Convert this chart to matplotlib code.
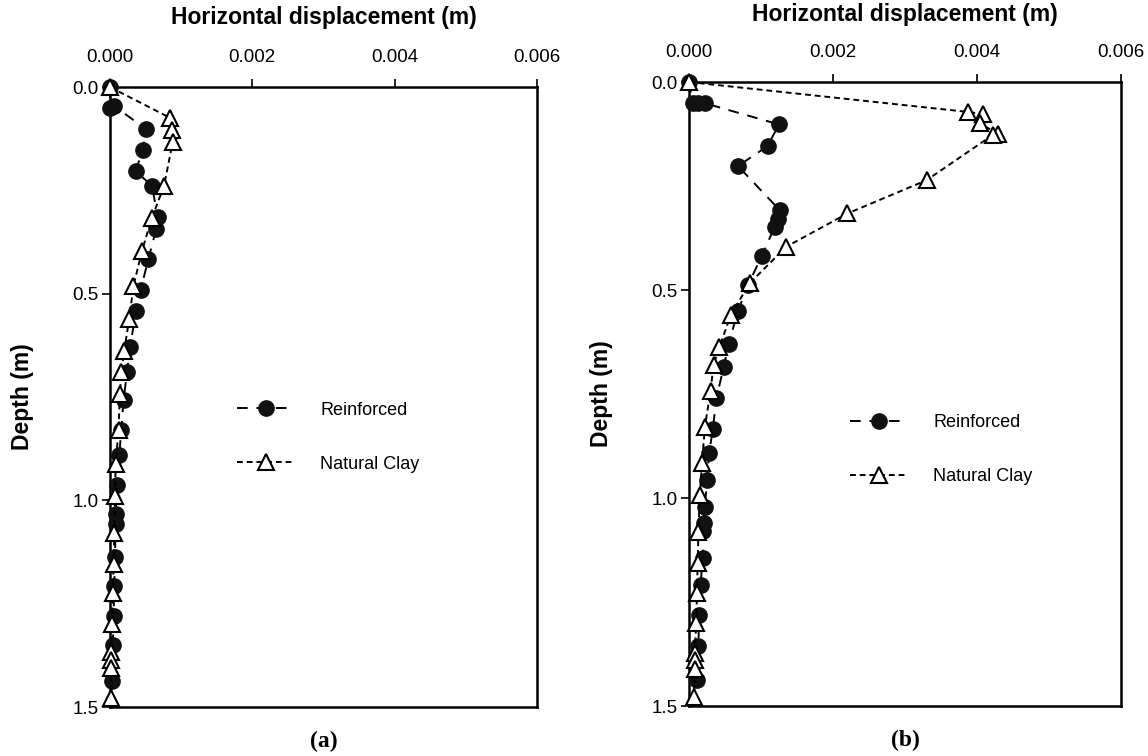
import matplotlib
matplotlib.use("Agg")
import matplotlib.pyplot as plt

plt.rcParams['font.family'] = ['Liberation Sans', 'DejaVu Sans']

# panel (a)
a_reinf_x = [0, 0, 0.00005, 0.00051, 0.00046, 0.00036, 0.00059, 0.00067, 0.00065, 0.00054,
             0.00043, 0.00037, 0.00028, 0.00024, 0.00019, 0.00016, 0.00013, 0.00010, 0.00008,
             0.00008, 0.00007, 0.00006, 0.00005, 0.00004, 0.00003]
a_reinf_d = [0, 0.05, 0.045, 0.102, 0.153, 0.203, 0.239, 0.314, 0.343, 0.416,
             0.491, 0.541, 0.628, 0.69, 0.758, 0.829, 0.891, 0.964, 1.032,
             1.056, 1.137, 1.208, 1.28, 1.35, 1.436]
a_clay_x = [0, 0.00084, 0.00087, 0.00088, 0.00076, 0.00059, 0.00045, 0.00033, 0.00027, 0.00020,
            0.00016, 0.00014, 0.00012, 0.00008, 0.00007, 0.00006, 0.00005, 0.00004, 0.00003,
            0.00002, 0.00002, 0.00002, 0.00002]
a_clay_d = [0, 0.074, 0.105, 0.134, 0.239, 0.316, 0.396, 0.481, 0.561, 0.638,
            0.69, 0.742, 0.829, 0.911, 0.99, 1.08, 1.153, 1.225, 1.298,
            1.366, 1.386, 1.406, 1.479]

# panel (b)
b_reinf_x = [0, 0.00005, 0.00012, 0.00022, 0.00125, 0.00109, 0.00068, 0.00126, 0.00124, 0.00119,
             0.00101, 0.00082, 0.00068, 0.00055, 0.00048, 0.00038, 0.00033, 0.00028, 0.00025,
             0.00022, 0.00021, 0.00020, 0.00019, 0.00016, 0.00014, 0.00013, 0.00011]
b_reinf_d = [0, 0.051, 0.051, 0.051, 0.102, 0.154, 0.202, 0.308, 0.33, 0.348,
             0.418, 0.488, 0.55, 0.63, 0.686, 0.76, 0.835, 0.891, 0.957,
             1.021, 1.059, 1.08, 1.145, 1.209, 1.281, 1.356, 1.438]
b_clay_x = [0, 0.00388, 0.00408, 0.00404, 0.00429, 0.00422, 0.0033, 0.0022, 0.00135, 0.00084,
            0.00058, 0.00042, 0.00034, 0.00030, 0.00022, 0.00018, 0.00015, 0.00013, 0.00012,
            0.00011, 0.00010, 0.00008, 0.00008, 0.00008, 0.00007]
b_clay_d = [0, 0.072, 0.077, 0.099, 0.125, 0.127, 0.236, 0.316, 0.396, 0.484,
            0.56, 0.638, 0.68, 0.742, 0.829, 0.917, 0.993, 1.081, 1.157,
            1.229, 1.301, 1.373, 1.39, 1.41, 1.478]

x_ticks = [0, 0.002, 0.004, 0.006]
x_labels = ['0.000', '0.002', '0.004', '0.006']
y_ticks = [0, 0.5, 1.0, 1.5]
y_labels = ['0.0', '0.5', '1.0', '1.5']

fig = plt.figure(figsize=(11.48, 7.56), dpi=100)
ax_a = fig.add_axes([0.0958, 0.0648, 0.372, 0.820])
ax_b = fig.add_axes([0.6002, 0.0661, 0.3763, 0.8254])


def draw(ax, rx, rd, cx, cd, leg_pos, tag, title_pad):
    ax.plot(rx, rd, color='black', linestyle=(0, (5.5, 4.5)), linewidth=1.4,
            marker='o', markersize=11, markerfacecolor='#111111',
            markeredgecolor='#111111', label='Reinforced', clip_on=False, zorder=3)
    ax.plot(cx, cd, color='black', linestyle=(0, (3, 2)), linewidth=1.4,
            marker='^', markersize=11, markerfacecolor='white',
            markeredgecolor='black', markeredgewidth=1.5, label='Natural Clay',
            clip_on=False, zorder=4)
    ax.set_xlim(0, 0.006)
    ax.set_ylim(1.5, 0)
    ax.xaxis.tick_top()
    ax.xaxis.set_label_position('top')
    ax.set_xticks(x_ticks)
    ax.set_xticklabels(x_labels)
    ax.set_yticks(y_ticks)
    ax.set_yticklabels(y_labels)
    ax.tick_params(axis='both', direction='out', labelsize=13.5, width=1.2, length=6,
                   color='black')
    ax.tick_params(axis='x', pad=9)
    ax.tick_params(axis='y', pad=2)
    for s in ax.spines.values():
        s.set_linewidth(1.8)
    ax.set_xlabel('Horizontal displacement (m)', fontsize=16.5, fontweight='bold',
                  labelpad=title_pad)
    ax.set_ylabel('Depth (m)', fontsize=16.5, fontweight='bold', labelpad=28)
    ax.legend(loc='upper left', bbox_to_anchor=leg_pos, frameon=False, fontsize=13,
              handlelength=3.2, handletextpad=1.4, labelspacing=2.05, borderpad=0)
    ax.text(0.5, -0.055, tag, transform=ax.transAxes, ha='center', va='center',
            fontsize=17, fontweight='bold', family='Liberation Serif')


draw(ax_a, a_reinf_x, a_reinf_d, a_clay_x, a_clay_d, (0.277, 0.507), '(a)', 18)
draw(ax_b, b_reinf_x, b_reinf_d, b_clay_x, b_clay_d, (0.352, 0.482), '(b)', 17)

plt.savefig('out.png', dpi=100)
